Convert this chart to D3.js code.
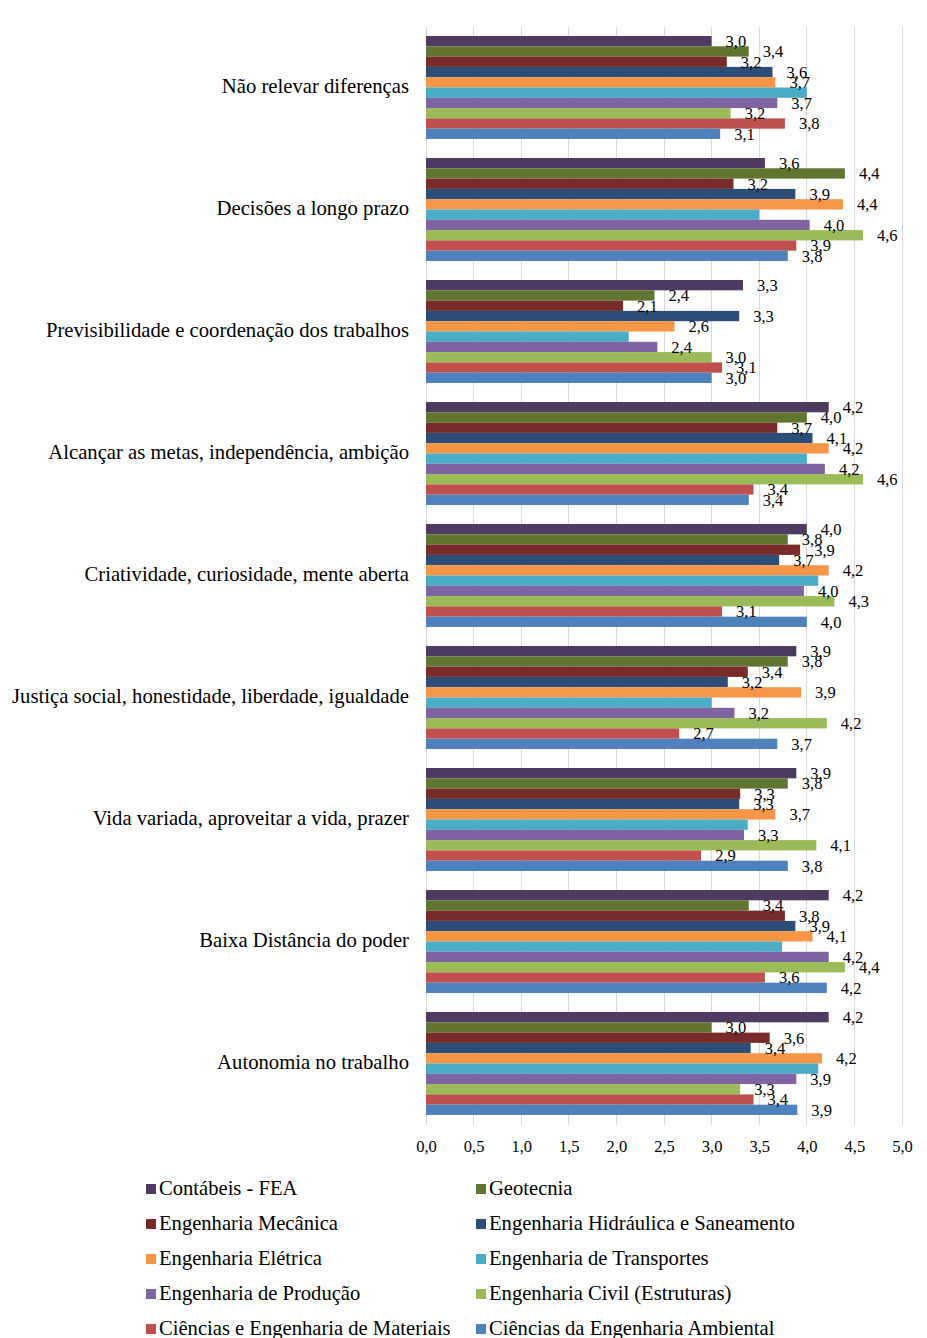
<!DOCTYPE html>
<html>
<head>
<meta charset="utf-8">
<script src="https://cdn.jsdelivr.net/npm/d3@7"></script>
<style>
  html, body { margin: 0; padding: 0; background: #fff; }
  svg { display: block; }
  text { font-family: "Liberation Serif", "Times New Roman", serif; fill: #000; }
</style>
</head>
<body>
<svg id="chart" width="927" height="1338"></svg>
<script>
// Categories (top to bottom)
const categories = [
  "Não relevar diferenças",
  "Decisões a longo prazo",
  "Previsibilidade e coordenação dos trabalhos",
  "Alcançar as metas, independência, ambição",
  "Criatividade, curiosidade, mente aberta",
  "Justiça social, honestidade, liberdade, igualdade",
  "Vida variada, aproveitar a vida, prazer",
  "Baixa Distância do poder",
  "Autonomia no trabalho"
];

// Series names, in bar order within each group
const seriesNames = [
  "Contábeis - FEA",
  "Geotecnia",
  "Engenharia Mecânica",
  "Engenharia Hidráulica e Saneamento",
  "Engenharia Elétrica",
  "Engenharia de Transportes",
  "Engenharia de Produção",
  "Engenharia Civil (Estruturas)",
  "Ciências e Engenharia de Materiais",
  "Ciências da Engenharia Ambiental"
];

// Mean scores per series, one value per category
const contabeis   = [3.00, 3.56, 3.33, 4.23, 4.00, 3.89, 3.89, 4.23, 4.23];
const geotecnia   = [3.39, 4.40, 2.40, 4.00, 3.80, 3.80, 3.80, 3.39, 3.00];
const mecanica    = [3.16, 3.23, 2.07, 3.69, 3.93, 3.38, 3.30, 3.77, 3.61];
const hidraulica  = [3.64, 3.88, 3.29, 4.06, 3.71, 3.17, 3.29, 3.88, 3.41];
const eletrica    = [3.67, 4.38, 2.61, 4.23, 4.23, 3.94, 3.67, 4.06, 4.16];
const transportes = [4.00, 3.50, 2.13, 4.00, 4.12, 3.00, 3.38, 3.74, 4.12];
const producao    = [3.69, 4.03, 2.43, 4.19, 3.97, 3.24, 3.34, 4.23, 3.89];
const civil       = [3.20, 4.59, 3.00, 4.59, 4.29, 4.21, 4.10, 4.40, 3.30];
const materiais   = [3.77, 3.89, 3.11, 3.44, 3.11, 2.66, 2.89, 3.56, 3.44];
const ambiental   = [3.09, 3.80, 3.00, 3.39, 4.00, 3.69, 3.80, 4.21, 3.90];

// Series that carry value labels (Transportes has none)
const labelledSeries = [true, true, true, true, true, false, true, true, true, true];

// Axis tick values
const tickValues = [0, 0.5, 1, 1.5, 2, 2.5, 3, 3.5, 4, 4.5, 5];

const colors = ["#4f3b62", "#5f7530", "#772c2a", "#2c4d75", "#f79646",
                "#4bacc6", "#8064a2", "#9bbb59", "#c0504d", "#4f81bd"];

const seriesValues = [contabeis, geotecnia, mecanica, hidraulica, eletrica,
                      transportes, producao, civil, materiais, ambiental];

const locale = d3.formatLocale({ decimal: ",", thousands: ".", grouping: [3], currency: ["R$", ""] });
const fmt = locale.format(".1f");

const svg = d3.select("#chart");

const plot = { left: 426, right: 902, top: 26.5, bottom: 1124.5 };

const x = d3.scaleLinear().domain([0, 5]).range([plot.left, plot.right]);

const y0 = d3.scaleBand()
  .domain(categories)
  .range([plot.top, plot.bottom])
  .paddingInner(0.156)
  .paddingOuter(0.078);

const y1 = d3.scaleBand()
  .domain(d3.range(seriesNames.length))
  .range([0, y0.bandwidth()]);

// Vertical gridlines
svg.append("g")
  .selectAll("line")
  .data(tickValues)
  .join("line")
  .attr("x1", d => x(d)).attr("x2", d => x(d))
  .attr("y1", plot.top).attr("y2", plot.bottom)
  .attr("stroke", "#d9d9d9")
  .attr("stroke-width", 1)
  .attr("shape-rendering", "crispEdges");

// Bottom axis with tick labels
const xAxis = d3.axisBottom(x)
  .tickValues(tickValues)
  .tickSize(0)
  .tickPadding(16)
  .tickFormat(fmt);

const gx = svg.append("g")
  .attr("transform", `translate(0,${plot.bottom})`)
  .call(xAxis);
gx.select(".domain").remove();
gx.selectAll("text")
  .attr("font-size", 16.5)
  .attr("font-family", "Liberation Serif, Times New Roman, serif")
  .attr("fill", "#000");

// Category labels
svg.append("g")
  .selectAll("text")
  .data(categories)
  .join("text")
  .attr("x", 409)
  .attr("y", d => y0(d) + y0.bandwidth() / 2 + 1)
  .attr("text-anchor", "end")
  .attr("dominant-baseline", "middle")
  .attr("font-size", 20.7)
  .text(d => d);

// Bars
const rows = [];
categories.forEach((c, ci) => {
  seriesValues.forEach((vals, si) => {
    rows.push({ cat: c, si, value: vals[ci] });
  });
});

svg.append("g")
  .selectAll("rect")
  .data(rows)
  .join("rect")
  .attr("x", x(0))
  .attr("y", d => y0(d.cat) + y1(d.si))
  .attr("width", d => x(d.value) - x(0))
  .attr("height", y1.bandwidth())
  .attr("fill", d => colors[d.si]);

// Value labels
svg.append("g")
  .selectAll("text")
  .data(rows.filter(d => labelledSeries[d.si]))
  .join("text")
  .attr("x", d => x(d.value) + 14)
  .attr("y", d => y0(d.cat) + y1(d.si) + y1.bandwidth() / 2 + 2)
  .attr("dominant-baseline", "middle")
  .attr("font-size", 16.5)
  .text(d => fmt(d.value));

// Legend: two columns, five rows
const legend = svg.append("g")
  .selectAll("g")
  .data(seriesNames)
  .join("g")
  .attr("transform", (d, i) => {
    const col = i % 2, row = Math.floor(i / 2);
    return `translate(${col === 0 ? 146 : 476},${1189 + row * 35})`;
  });

legend.append("rect")
  .attr("x", 0).attr("y", -5)
  .attr("width", 10).attr("height", 10)
  .attr("fill", (d, i) => colors[i]);

legend.append("text")
  .attr("x", 13)
  .attr("y", 1)
  .attr("dominant-baseline", "middle")
  .attr("font-size", 20.6)
  .text(d => d);
</script>
</body>
</html>
